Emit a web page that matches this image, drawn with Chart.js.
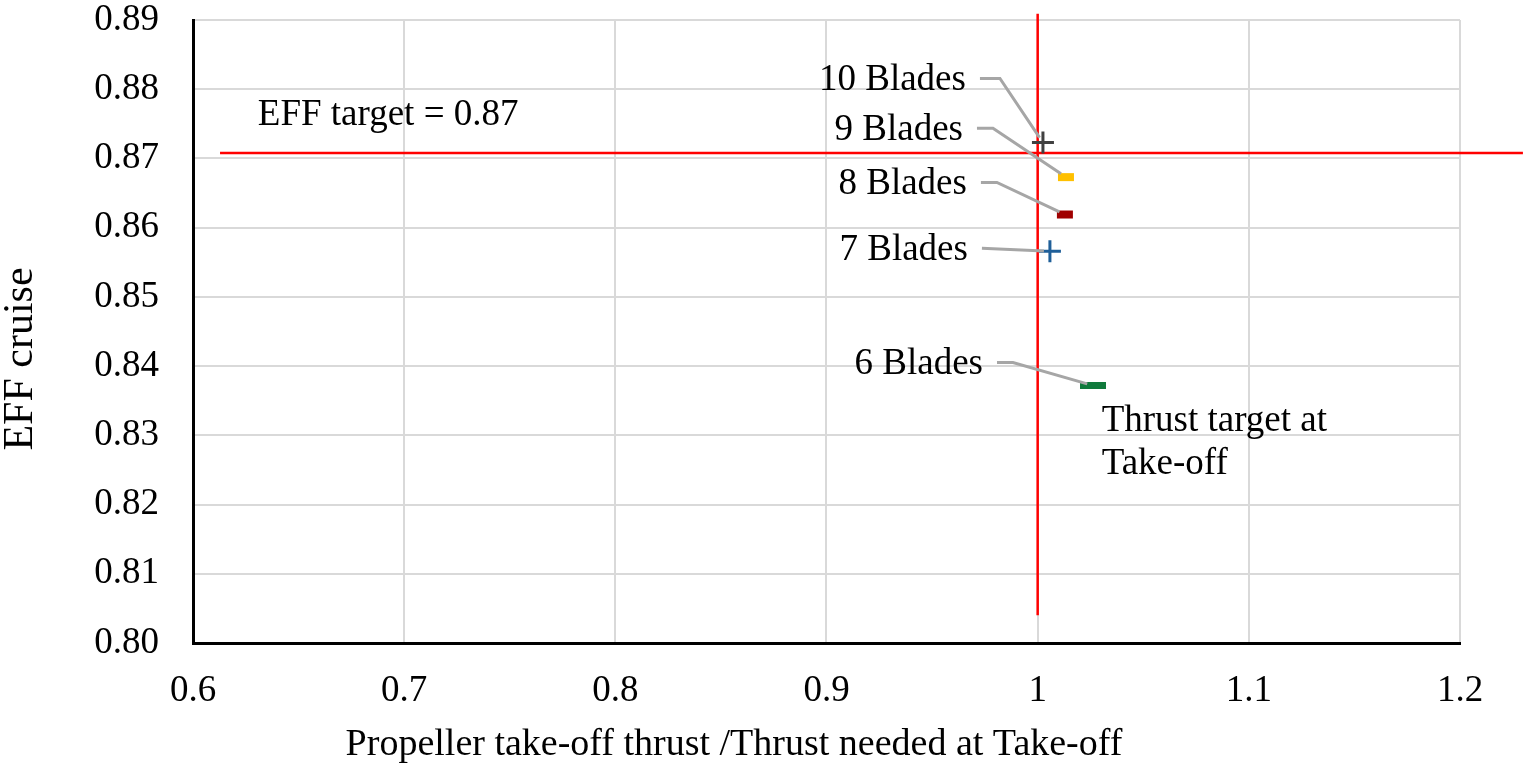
<!DOCTYPE html>
<html lang="en">
<head>
    <meta charset="UTF-8">
    <title>EFF cruise vs take-off thrust ratio</title>
    <script src="https://cdn.jsdelivr.net/npm/chart.js@4.4.1/dist/chart.umd.min.js"></script>
    <style>
        html, body { margin: 0; padding: 0; background: #ffffff; }
        .chart-box { width: 1526px; height: 767px; position: relative; }
    </style>
</head>
<body>

<div class="chart-box">
    <canvas id="bladeChart"></canvas>
</div>

<script>
    // --- DATA ---
    const bladeNames = ['10 Blades', '9 Blades', '8 Blades', '7 Blades', '6 Blades'];
    const thrustRatio = [1.0025, 1.0134, 1.0129, 1.0058, 1.0262];
    const effCruise = [0.8723, 0.8673, 0.8619, 0.8566, 0.8372];

    // target lines
    const effTargetX = [0.6128, 1.2298];
    const effTargetY = [0.8708, 0.8708];
    const thrustTargetX = [1.0, 1.0];
    const thrustTargetY = [0.8909, 0.8040];

    const xTickLabels = ['0.6', '0.7', '0.8', '0.9', '1', '1.1', '1.2'];
    const yTickLabels = ['0.80', '0.81', '0.82', '0.83', '0.84', '0.85', '0.86', '0.87', '0.88', '0.89'];

    // --- STYLE ---
    const serif = "'Liberation Serif', 'DejaVu Serif', serif";
    const markerStyle = [
        { style: 'cross', color: '#404040', radius: 11, width: 3 },
        { style: 'line', color: '#ffc000', radius: 8, width: 8 },
        { style: 'line', color: '#a00000', radius: 8, width: 8 },
        { style: 'cross', color: '#1f5f99', radius: 11, width: 3 },
        { style: 'line', color: '#107a3c', radius: 13, width: 7 }
    ];
    // label text right edge / middle, in px relative to the marker
    const labelOffset = [
        { dx: -77, dy: -62, bend: 20 },
        { dx: -103, dy: -47, bend: 16 },
        { dx: -98, dy: -30, bend: 16 },
        { dx: -82, dy: -1, bend: 0 },
        { dx: -110, dy: -21, bend: 16 }
    ];

    const datasets = bladeNames.map((name, i) => ({
        label: name,
        data: [{ x: thrustRatio[i], y: effCruise[i] }],
        pointStyle: markerStyle[i].style,
        pointRadius: markerStyle[i].radius,
        pointBorderWidth: markerStyle[i].width,
        pointBorderColor: markerStyle[i].color,
        pointBackgroundColor: markerStyle[i].color,
        showLine: false
    }));

    datasets.push({
        label: 'EFF target',
        data: effTargetX.map((x, i) => ({ x: x, y: effTargetY[i] })),
        showLine: true,
        borderColor: '#ff0000',
        borderWidth: 2.5,
        pointRadius: 0,
        clip: false
    });
    datasets.push({
        label: 'Thrust target',
        data: thrustTargetX.map((x, i) => ({ x: x, y: thrustTargetY[i] })),
        showLine: true,
        borderColor: '#ff0000',
        borderWidth: 2.5,
        pointRadius: 0,
        clip: false
    });

    // leader lines, data labels, free text and axis titles
    const annotatePlugin = {
        id: 'annotate',
        afterDatasetsDraw(chart) {
            const ctx = chart.ctx;
            const xs = chart.scales.x;
            const ys = chart.scales.y;
            ctx.save();
            ctx.font = '37px ' + serif;
            ctx.fillStyle = '#000000';
            ctx.textBaseline = 'middle';

            bladeNames.forEach((name, i) => {
                const px = xs.getPixelForValue(thrustRatio[i]);
                const py = ys.getPixelForValue(effCruise[i]);
                const o = labelOffset[i];
                const tx = px + o.dx;
                const ty = py + o.dy;
                // leader line
                const sx = tx + 14;
                const sy = ty - 2;
                const bx = sx + o.bend;
                const ang = Math.atan2(py - sy, px - bx);
                const ex = px - Math.cos(ang) * 6;
                const ey = py - Math.sin(ang) * 6;
                ctx.strokeStyle = '#a6a6a6';
                ctx.lineWidth = 3;
                ctx.beginPath();
                ctx.moveTo(sx, sy);
                ctx.lineTo(bx, sy);
                ctx.lineTo(ex, ey);
                ctx.stroke();
                // label
                ctx.textAlign = 'right';
                ctx.fillText(name, tx, ty);
            });

            ctx.textAlign = 'left';
            ctx.fillText('EFF target = 0.87', xs.getPixelForValue(0.6307), ys.getPixelForValue(0.8762));
            ctx.fillText('Thrust target at', xs.getPixelForValue(1.0303), ys.getPixelForValue(0.8320));
            ctx.fillText('Take-off', xs.getPixelForValue(1.0303), ys.getPixelForValue(0.8258));

            // axis titles
            ctx.font = '38px ' + serif;
            ctx.textAlign = 'center';
            ctx.fillText('Propeller take-off thrust /Thrust needed at Take-off', 734, 745);
            ctx.font = '42px ' + serif;
            ctx.translate(21, 359);
            ctx.rotate(-Math.PI / 2);
            ctx.fillText('EFF cruise', 0, 0);
            ctx.restore();
        }
    };

    const ctx = document.getElementById('bladeChart').getContext('2d');
    const bladeChart = new Chart(ctx, {
        type: 'scatter',
        data: { datasets: datasets },
        options: {
            responsive: true,
            maintainAspectRatio: false,
            animation: false,
            layout: { padding: { top: 14, right: 66, bottom: 0, left: 0 } },
            plugins: {
                legend: { display: false },
                tooltip: { enabled: false }
            },
            scales: {
                x: {
                    type: 'linear',
                    min: 0.6,
                    max: 1.2,
                    afterFit: (scale) => { scale.height = 124; },
                    ticks: {
                        stepSize: 0.1,
                        padding: 26,
                        maxRotation: 0,
                        color: '#000000',
                        font: { family: serif, size: 37, lineHeight: 1.2 },
                        callback: (value, index) => xTickLabels[index]
                    },
                    grid: { color: '#d9d9d9', lineWidth: 2, drawTicks: false },
                    border: { color: '#000000', width: 3 }
                },
                y: {
                    type: 'linear',
                    min: 0.80,
                    max: 0.89,
                    afterFit: (scale) => {
                        scale.width = 193;
                        scale.paddingTop = 0;
                        scale.paddingBottom = 0;
                    },
                    ticks: {
                        stepSize: 0.01,
                        padding: 34,
                        color: '#000000',
                        font: { family: serif, size: 37, lineHeight: 0.85 },
                        callback: (value, index) => yTickLabels[index]
                    },
                    grid: { color: '#d9d9d9', lineWidth: 2, drawTicks: false },
                    border: { color: '#000000', width: 3 }
                }
            }
        },
        plugins: [annotatePlugin]
    });
</script>

</body>
</html>
